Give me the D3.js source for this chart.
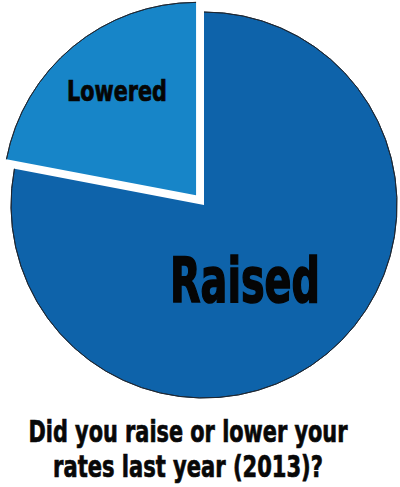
<!DOCTYPE html>
<html><head><meta charset="utf-8">
<script src="https://cdn.jsdelivr.net/npm/d3@7"></script>
<style>html,body{margin:0;padding:0;background:#fff;}svg{display:block;}</style>
</head><body>
<script>
const categories = ["Lowered", "Raised"];
const values = [22, 78];
const colors = ["#1785c8", "#0e63aa"];
const titleLines = ["Did you raise or lower your", "rates last year (2013)?"];

const W = 400, H = 487;
const cx = 204, cy = 205, R = 193;
const font = "'DejaVu Sans Condensed', 'Liberation Sans Narrow', sans-serif";

const svg = d3.select("body").append("svg").attr("width", W).attr("height", H);

const data = categories.map((c, i) => ({ name: c, value: values[i], color: colors[i] }));
const total = d3.sum(values);
const start = -2 * Math.PI * values[0] / total;
const pie = d3.pie().value(d => d.value).sort(null).startAngle(start).endAngle(start + 2 * Math.PI);
const arc = d3.arc().innerRadius(0).outerRadius(R);
const rim = d3.arc().innerRadius(R).outerRadius(R);
const arcs = pie(data);

const g = svg.append("g").attr("transform", `translate(${cx},${cy})`);
const explode = 12.5;
const shift = (d, i) => {
  if (i !== 0) return null;
  const a = (d.startAngle + d.endAngle) / 2;
  return `translate(${Math.sin(a) * explode},${-Math.cos(a) * explode})`;
};
g.selectAll("path.slice").data(arcs).join("path")
  .attr("class", "slice")
  .attr("d", arc)
  .attr("fill", d => d.data.color)
  .attr("transform", shift);
g.selectAll("path.rim").data(arcs).join("path")
  .attr("class", "rim")
  .attr("d", rim)
  .attr("fill", "none")
  .attr("stroke", "#1c2530")
  .attr("stroke-width", 0.9)
  .attr("transform", shift);

function fitText(sel) {
  sel.each(function (d) {
    const t = d3.select(this);
    const w = this.getComputedTextLength();
    const sx = d.len / w;
    t.attr("x", 0).attr("y", 0)
     .attr("transform", `translate(${d.x},${d.y}) scale(${sx},${d.sy})`);
  });
}

const labels = [
  { text: categories[0], x: 117, y: 101, size: 24, len: 100, sy: 1.15 },
  { text: categories[1], x: 245, y: 302, size: 54, len: 150, sy: 1.15 }
];
svg.selectAll("text.lab").data(labels).join("text")
  .attr("class", "lab")
  .attr("text-anchor", "middle")
  .attr("font-family", font).attr("font-weight", "bold")
  .attr("font-size", d => d.size)
  .attr("fill", "#050505")
  .attr("stroke", "#050505").attr("stroke-width", d => d.size / 40)
  .text(d => d.text)
  .call(fitText);

const tl = [
  { text: titleLines[0], x: 188, y: 442, len: 319, sy: 1.15 },
  { text: titleLines[1], x: 188, y: 477, len: 270, sy: 1.15 }
];
svg.selectAll("text.title").data(tl).join("text")
  .attr("class", "title")
  .attr("text-anchor", "middle")
  .attr("font-family", font).attr("font-weight", "bold")
  .attr("font-size", 26)
  .attr("fill", "#080808")
  .attr("stroke", "#080808").attr("stroke-width", 0.6)
  .text(d => d.text)
  .call(fitText);
</script>
</body></html>
